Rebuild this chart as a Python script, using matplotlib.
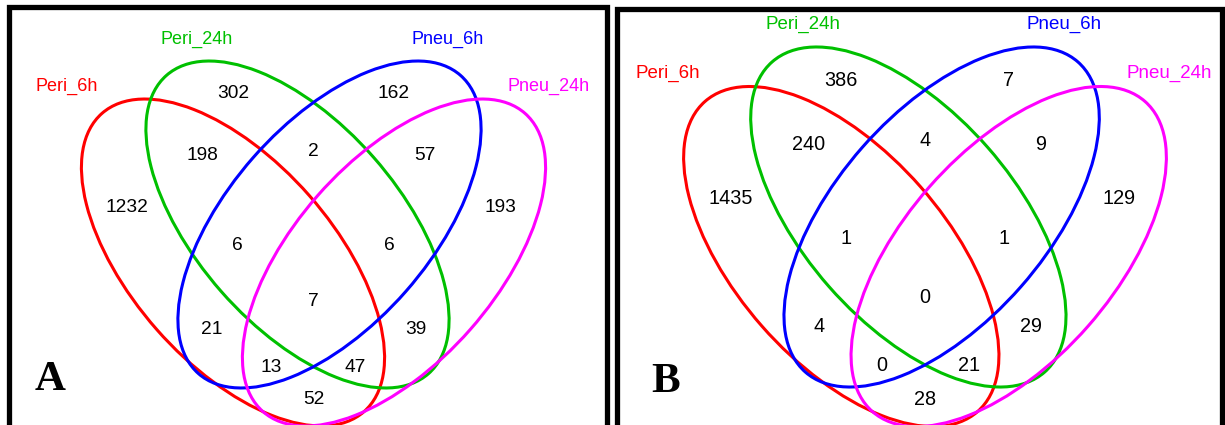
"""Two 4-set Venn diagrams (panels A and B) drawn as tilted ellipses."""
import matplotlib
matplotlib.use("Agg")
import matplotlib.pyplot as plt
from matplotlib.patches import Ellipse

plt.rcParams["font.family"] = ["Liberation Sans", "DejaVu Sans"]

SETS = ["Peri_6h", "Peri_24h", "Pneu_6h", "Pneu_24h"]
COLORS = ["#ff0000", "#00c000", "#0000ff", "#ff00ff"]

# region = which sets it belongs to (Peri_6h, Peri_24h, Pneu_6h, Pneu_24h)
REGIONS = ["1000", "0100", "0010", "0001", "1100", "0110", "0011", "1010", "0101", "1001",
           "1110", "0111", "1011", "1101", "1111"]
COUNTS_A = [1232, 302, 162, 193, 198, 2, 57, 21, 39, 52, 6, 6, 13, 47, 7]
COUNTS_B = [1435, 386, 7, 129, 240, 4, 9, 4, 29, 28, 1, 1, 0, 21, 0]
PANEL_LETTERS = ["A", "B"]

# layout in local units (origin = symmetry axis, y down)
ELL_W, ELL_H, ELL_ANG = 397, 203, 48.7
ELL_CENTERS = [(-80.5, 38), (-16, 0), (16, 0), (80.5, 38)]
ELL_TILT = [1, 1, -1, -1]
SET_LABEL_POS = [(-247, -138), (-117, -185), (134, -185), (235, -138)]
REGION_POS = {"1000": (-187, -17.5), "0100": (-80.5, -131.5), "0010": (80, -131.5),
              "0001": (187, -17.5), "1100": (-111.5, -69.5), "0110": (0, -73.5),
              "0011": (111.5, -69.5), "1010": (-102, 105.5), "0101": (102, 105.5),
              "1001": (0, 175.5), "1110": (-76, 20.5), "0111": (76, 20.5),
              "1011": (-42, 142.5), "1101": (42, 142.5), "1111": (0, 77.5)}

# per panel: origin, scale, frame (left, right, top), letter position (pixels)
PANELS = [dict(ox=313.5, oy=224.5, s=1.0, frame=(8.5, 607, 6.5), letter=(50, 380)),
          dict(ox=925, oy=217, s=1.04, frame=(616.5, 1221.5, 9), letter=(666, 382))]


def draw_panel(ax, counts, letter, ox, oy, s, frame, letter_xy):
    to_px = lambda p: (ox + s * p[0], oy + s * p[1])
    for (c, tilt, col) in zip(ELL_CENTERS, ELL_TILT, COLORS):
        ax.add_patch(Ellipse(to_px(c), ELL_W * s, ELL_H * s, angle=tilt * ELL_ANG,
                             fill=False, edgecolor=col, lw=2.2))
    for name, pos, col in zip(SETS, SET_LABEL_POS, COLORS):
        x, y = to_px(pos)
        ax.text(x, y, name, color=col, fontsize=13 * s, ha="center", va="center")
    for key, n in zip(REGIONS, counts):
        x, y = to_px(REGION_POS[key])
        ax.text(x, y, str(n), color="black", fontsize=13.8 * s, ha="center", va="center")
    x0, x1, top = frame
    ax.plot([x0, x0, x1, x1], [440, top, top, 440], color="black", lw=3.8,
            solid_joinstyle="miter", solid_capstyle="butt")
    ax.text(*letter_xy, letter, fontsize=31, fontweight="bold", family="Liberation Serif",
            ha="center", va="center")


fig = plt.figure(figsize=(12.25, 4.25), dpi=100)
ax = fig.add_axes([0, 0, 1, 1])
ax.set_xlim(0, 1225); ax.set_ylim(425, 0); ax.axis("off")

for counts, letter, p in zip([COUNTS_A, COUNTS_B], PANEL_LETTERS, PANELS):
    draw_panel(ax, counts, letter, p["ox"], p["oy"], p["s"], p["frame"], p["letter"])

fig.savefig("out.png", dpi=100)
